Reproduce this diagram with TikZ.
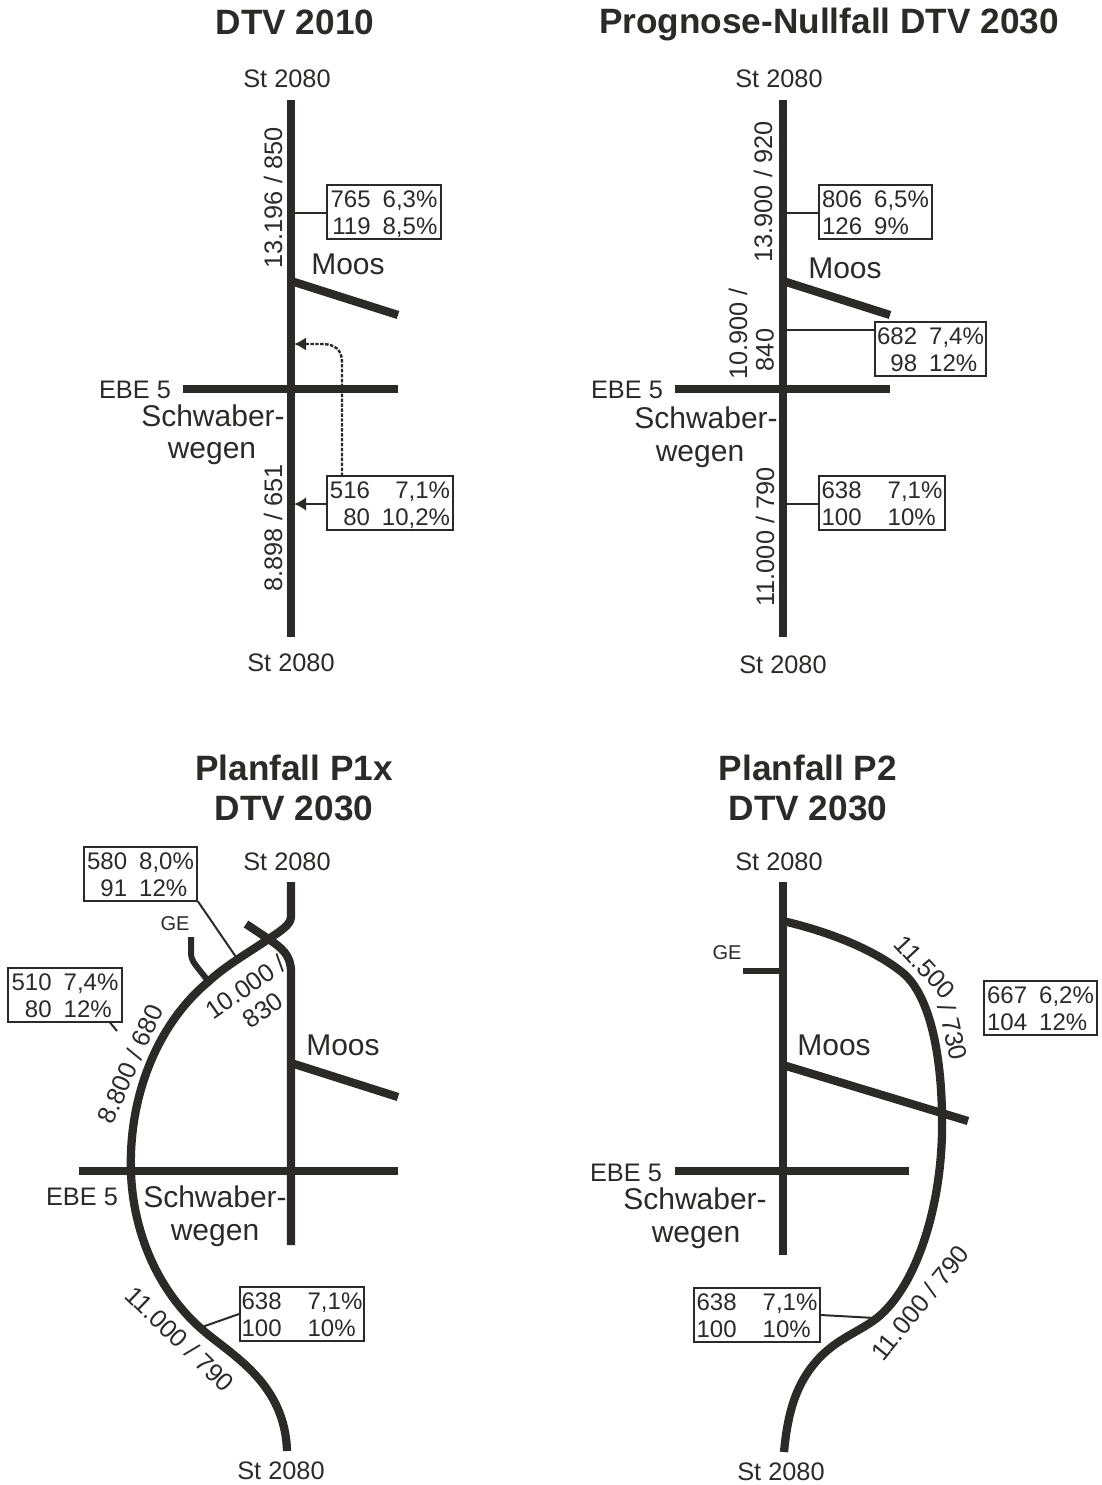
\documentclass[tikz,border=0pt]{standalone}
\usepackage{fontspec}
\setmainfont{Liberation Sans}
\usetikzlibrary{arrows.meta}
\definecolor{ink}{HTML}{2B2A29}
\newcommand{\vals}[5]{\fontsize{18}{20.2}\selectfont\raisebox{-3pt}[\height][\depth]{\begin{tabular}{@{}r@{\hspace{#5}}l@{}}#1&#2\\#3&#4\end{tabular}}}
\tikzset{
  road/.style={draw=ink,line width=6.2pt,line cap=butt,line join=round},
  minor/.style={draw=ink,line width=4.5pt,line cap=butt,line join=round},
  lead/.style={draw=ink,line width=1.5pt},
  vbox/.style={draw=ink,line width=1.5pt,fill=white,inner sep=0pt,minimum height=40.5pt,minimum width=#1*0.75pt,text=ink},
  lab/.style={font=\fontsize{19}{21}\selectfont,text=ink,inner sep=0pt},
  big/.style={font=\fontsize{22.5}{24}\selectfont,text=ink,inner sep=0pt},
  small/.style={font=\fontsize{15}{17}\selectfont,text=ink,inner sep=0pt},
  ttl/.style={font=\fontsize{26.4}{30}\selectfont\bfseries,text=ink,inner sep=0pt},
}
\begin{document}
\begin{tikzpicture}[x=0.75pt,y=-0.75pt]
\useasboundingbox (0,0) rectangle (1102,1485);
% ---------- Panel 1
\node[ttl] (t1) at (295,22) {DTV 2010};
\draw[road] (291,100) -- (291,637);
\draw[road] (291,281) -- (398,315);
\draw[road] (183,389) -- (398,389);
\node[vbox=114] (a) at (384,212) {\vals{765}{6,3\%}{119}{8,5\%}{9pt}};
\node[vbox=126] (b) at (390,503) {\vals{516}{\hphantom{0}7,1\%}{80}{10,2\%}{9pt}};
\coordinate (a1) at (291,213);
\coordinate (b1) at (294,504);
\coordinate (b2) at (294,344);
\draw[lead] (a.west |- a1) -- (a1);
\draw[lead,-{Latex[length=9pt,width=10pt]}] (b.west |- b1) -- (b1);
\draw[lead,line width=1.8pt,dash pattern=on 2.6pt off 1.1pt,-{Latex[length=9pt,width=10pt]}] (342,476) -- (342,362) .. controls (342,350) and (335,344) .. (322,344) -- (b2);
\node[lab] (n1) at (287,78.7) {St 2080};
\node[lab] (n2) at (291,662.7) {St 2080};
\node[lab,rotate=90] (n3) at (273,198) {13.196 / 850};
\node[lab,rotate=90] (n4) at (273,528) {8.898 / 651};
\node[big] (n5) at (348,264) {Moos};
\node[lab] (n6) at (135,390) {EBE 5};
\node[big] (n7) at (213,416) {Schwaber-};
\node[big] (n8) at (212,454) {wegen};
% ---------- Panel 2
\node[ttl] (t2) at (829,24) {Prognose-Nullfall DTV 2030};
\draw[road] (783,100) -- (783,637);
\draw[road] (783,281) -- (890,315);
\draw[road] (675,389) -- (890,389);
\node[vbox=113] (c) at (875.5,212) {\vals{806}{6,5\%}{126}{9\%}{9pt}};
\node[vbox=111] (d) at (930.5,349) {\vals{682}{7,4\%}{98}{12\%}{9pt}};
\node[vbox=126] (e) at (882,503) {\vals{638}{7,1\%}{100}{10\%}{19.5pt}};
\coordinate (c1) at (783,213);
\coordinate (d1) at (783,330);
\coordinate (e1) at (783,504);
\draw[lead] (c.west |- c1) -- (c1);
\draw[lead] (d.west |- d1) -- (d1);
\draw[lead] (e.west |- e1) -- (e1);
\node[lab] (m1) at (779,78.7) {St 2080};
\node[lab] (m2) at (783,664.7) {St 2080};
\node[lab,rotate=90] (m3) at (763,192) {13.900 / 920};
\node[lab,rotate=90] (m4) at (738,334) {10.900 /};
\node[lab,rotate=90] (m5) at (765,350) {840};
\node[lab,rotate=90] (m6) at (765,537) {11.000 / 790};
\node[big] (m7) at (845,268) {Moos};
\node[lab] (m8) at (627,390) {EBE 5};
\node[big] (m9) at (706,418) {Schwaber-};
\node[big] (m10) at (700,457) {wegen};
% ---------- Panel 3
\node[ttl] (t3) at (294,768) {Planfall P1x};
\node[ttl] (t3b) at (294,808) {DTV 2030};
\draw[road] (291,882) -- (291,916) .. controls (291,924) and (284,929) .. (267,940)
  .. controls (248,953) and (225,966) .. (208,982)
  .. controls (162,1020) and (128,1090) .. (131,1173)
  .. controls (133,1228) and (155,1290) .. (205,1332)
  .. controls (235,1357) and (285,1385) .. (287,1451);
\draw[road] (246,924) -- (267,938) .. controls (282,948) and (291,955) .. (291,972) -- (291,1245);
\draw[minor] (191,937) -- (191,953) .. controls (191,962) and (197,966) .. (208,981);
\draw[road] (291,1063) -- (398,1097);
\draw[road] (79,1171) -- (398,1171);
\node[vbox=113] (f) at (140.5,873.5) {\vals{580}{8,0\%}{91}{12\%}{9pt}};
\node[vbox=114] (g) at (65,994.5) {\vals{510}{7,4\%}{80}{12\%}{9pt}};
\node[vbox=124] (h) at (302,1314) {\vals{638}{7,1\%}{100}{10\%}{19.5pt}};
\coordinate (f1) at (236,957);
\coordinate (g1) at (117,1031);
\coordinate (g0) at (110,1022.5);
\coordinate (h1) at (202,1327);
\draw[lead] (f.south east) -- (f1);
\draw[lead] (g0) -- (g1);
\draw[lead] (h.west) -- (h1);
\node[lab] (p1) at (287,861.7) {St 2080};
\node[lab] (p2) at (281,1470.7) {St 2080};
\node[small] (p3) at (175,924) {GE};
\node[lab,rotate=35] (p4) at (245.7,987) {10.000 /};
\node[lab,rotate=35] (p5) at (263,1010) {830};
\node[lab,rotate=66] (p6) at (130,1064) {8.800 / 680};
\node[lab,rotate=-44] (p7) at (180,1339) {11.000 / 790};
\node[big] (p8) at (343,1045) {Moos};
\node[lab] (p9) at (82,1197) {EBE 5};
\node[big] (p10) at (215,1197) {Schwaber-};
\node[big] (p11) at (215,1236) {wegen};
% ---------- Panel 4
\node[ttl] (t4) at (808,768) {Planfall P2};
\node[ttl] (t4b) at (808,808) {DTV 2030};
\draw[road] (783,882) -- (783,1255);
\draw[minor] (743,971) -- (783,971);
\draw[road] (783,1065) -- (968,1121);
\draw[road] (675,1171) -- (909,1171);
\draw[road] (783,921) .. controls (830,932) and (875,950) .. (903,973)
  .. controls (927,993) and (941,1045) .. (942,1115)
  .. controls (944,1200) and (918,1285) .. (877,1318)
  .. controls (855,1335) and (830,1340) .. (808,1372)
  .. controls (793,1394) and (787,1420) .. (784,1452);
\node[vbox=113] (i) at (1040.5,1007.5) {\vals{667}{6,2\%}{104}{12\%}{9pt}};
\node[vbox=126] (j) at (757,1315) {\vals{638}{7,1\%}{100}{10\%}{19.5pt}};
\coordinate (j1) at (875,1318);
\draw[lead] (j.east) -- (j1);
\node[lab] (q1) at (779,861.7) {St 2080};
\node[lab] (q2) at (781,1471.7) {St 2080};
\node[small] (q3) at (727,953) {GE};
\node[lab,rotate=-47] (q4) at (925,967) {11.500};
\node[lab,rotate=-77] (q5) at (953,1032) {/ 730};
\node[lab,rotate=51] (q6) at (920,1303) {11.000 / 790};
\node[big] (q7) at (834,1045) {Moos};
\node[lab] (q8) at (626,1173) {EBE 5};
\node[big] (q9) at (695,1199) {Schwaber-};
\node[big] (q10) at (696,1238) {wegen};
\end{tikzpicture}
\end{document}
